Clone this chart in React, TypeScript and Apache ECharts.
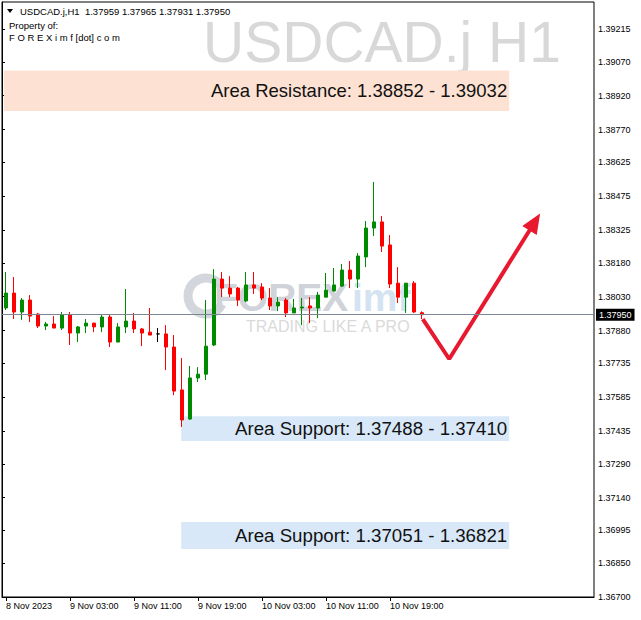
import React, { useEffect, useRef } from "react";
import * as echarts from "echarts";

// ---- data ----
const symbolTitle = "USDCAD.j H1";
const headerLine = "USDCAD.j,H1  1.37959 1.37965 1.37931 1.37950";
const ownerLines = ["Property of:", "F O R E X i m f [dot] c o m"];

const tickLabels = ["8 Nov 2023", "9 Nov 03:00", "9 Nov 11:00", "9 Nov 19:00", "10 Nov 03:00", "10 Nov 11:00", "10 Nov 19:00"];
const tickStep = 8;
const slotCount = 74; // hourly slots incl. chart shift

const priceTicks = [1.367, 1.3685, 1.36995, 1.3714, 1.3729, 1.37435, 1.37585, 1.37735, 1.3788, 1.3803, 1.3818, 1.38325, 1.38475, 1.38625, 1.3877, 1.3892, 1.3907, 1.39215];
const priceMin = 1.367;
const priceMax = 1.39335;
const lastPrice = 1.3795;

const opens = [1.37980,1.38046,1.37962,1.38015,1.37953,1.37900,1.37909,1.37891,1.37949,1.37869,
1.37900,1.37913,1.37896,1.37940,1.37829,1.37896,1.37922,1.37887,1.37873,1.37865,
1.37865,1.37807,1.37617,1.37488,1.37670,1.37687,1.37816,1.38108,1.38068,1.38068,
1.38011,1.38082,1.38073,1.38024,1.37989,1.38015,1.37958,1.37980,1.37989,1.37980,
1.38028,1.38055,1.38077,1.38148,1.38108,1.38206,1.38334,1.38361,1.38259,1.38090,
1.38028,1.38090,1.37959];
const closes = [1.38046,1.37962,1.38015,1.37944,1.37900,1.37909,1.37891,1.37949,1.37869,1.37896,
1.37913,1.37896,1.37940,1.37829,1.37896,1.37922,1.37887,1.37869,1.37860,1.37865,
1.37807,1.37612,1.37484,1.37670,1.37687,1.37811,1.38108,1.38068,1.38042,1.38015,
1.38082,1.38068,1.38024,1.37989,1.38006,1.37958,1.37980,1.37984,1.37980,1.38037,
1.38059,1.38082,1.38148,1.38108,1.38210,1.38334,1.38361,1.38254,1.38086,1.38028,
1.38090,1.37962,1.37950];
const lows = [1.37971,1.37931,1.37927,1.37918,1.37891,1.37882,1.37891,1.37882,1.37816,1.37829,
1.37869,1.37873,1.37873,1.37807,1.37829,1.37869,1.37869,1.37811,1.37860,1.37829,
1.37705,1.37594,1.37453,1.37484,1.37652,1.37661,1.37811,1.38028,1.38028,1.37989,
1.38006,1.38042,1.38015,1.37971,1.37966,1.37940,1.37958,1.37904,1.37913,1.37935,
1.38028,1.38055,1.38073,1.38068,1.38068,1.38161,1.38299,1.38228,1.38068,1.38002,
1.37958,1.37958,1.37931];
const highs = [1.38139,1.38117,1.38024,1.38037,1.37958,1.37918,1.37944,1.37962,1.37962,1.37900,
1.37931,1.37913,1.37953,1.37953,1.37913,1.38064,1.37958,1.37891,1.37980,1.37891,
1.37904,1.37860,1.37758,1.37723,1.37718,1.38015,1.38152,1.38139,1.38121,1.38073,
1.38139,1.38139,1.38090,1.38068,1.38028,1.38024,1.38020,1.38024,1.38028,1.38051,
1.38135,1.38157,1.38175,1.38188,1.38223,1.38365,1.38538,1.38387,1.38303,1.38161,
1.38090,1.38099,1.37965];

// zones: [slot start, slot end], [price low, price high]
const zoneLabels = ["Area Resistance: 1.38852 - 1.39032", "Area Support: 1.37488 - 1.37410", "Area Support: 1.37051 - 1.36821"];
const zoneX = [[0.25, 63.4], [22.4, 63.4], [22.4, 63.4]];
const zoneY = [[1.38852, 1.39032], [1.37391, 1.37501], [1.36913, 1.37032]];
const zoneColors = ["#fde2d3", "#d8e8f8", "#d8e8f8"];

// arrow path in [slot, price]
const arrowPath = [[52.6, 1.37931], [55.9, 1.37754], [66.6, 1.38361]];

const FONT = "Liberation Sans, Arial, sans-serif";

function buildCategories(): string[] {
  const out: string[] = [];
  for (let i = 0; i < slotCount; i++) {
    const h = 19 + i;
    const day = 8 + Math.floor(h / 24);
    const hh = h % 24;
    out.push(`${day} Nov ${hh < 10 ? "0" : ""}${hh}:00`);
  }
  return out;
}

export default function App() {
  const ref = useRef<HTMLDivElement>(null);
  useEffect(() => {
    if (!ref.current) return;
    const chart = echarts.init(ref.current, null, { renderer: "svg" });
    const categories = buildCategories();
    const candleData = opens.map((o, i) => [o, closes[i], lows[i], highs[i]]);
    const arrowData: any[] = arrowPath.map((p, i) =>
      i === arrowPath.length - 1
        ? { value: p, symbol: "triangle", symbolSize: [17, 20], symbolRotate: -32, itemStyle: { color: "#e8192f" } }
        : { value: p }
    );
    const zones = zoneLabels.map((name, i) => [
      {
        name,
        xAxis: zoneX[i][0],
        yAxis: zoneY[i][1],
        itemStyle: { color: zoneColors[i] },
        label: { show: true, position: "insideRight", distance: 2, fontSize: i === 0 ? 18.5 : 18.7, color: "#111", fontFamily: FONT },
      },
      { xAxis: zoneX[i][1], yAxis: zoneY[i][0] },
    ]);

    chart.setOption({
      animation: false,
      backgroundColor: "#ffffff",
      grid: { left: 2, right: 47, top: 2, bottom: 23, show: true, borderColor: "#000", borderWidth: 1, backgroundColor: "transparent" },
      xAxis: [
        {
          type: "category",
          data: categories,
          boundaryGap: true,
          axisLine: { show: true, lineStyle: { color: "#000", width: 1 } },
          axisTick: {
            show: true,
            alignWithLabel: true,
            length: 4,
            lineStyle: { color: "#000" },
            interval: (idx: number) => idx % tickStep === 0 && idx / tickStep < tickLabels.length,
          },
          axisLabel: {
            interval: (idx: number) => idx % tickStep === 0 && idx / tickStep < tickLabels.length,
            formatter: (_v: string, idx: number) => tickLabels[Math.round(idx / tickStep)] ?? "",
            align: "left",
            margin: 4,
            fontSize: 9,
            color: "#000",
            fontFamily: FONT,
          },
          splitLine: { show: false },
        },
        { type: "value", min: 0, max: slotCount, show: false },
      ],
      yAxis: {
        type: "value",
        position: "right",
        min: priceMin,
        max: priceMax,
        axisLine: { show: true, lineStyle: { color: "#000", width: 1 } },
        axisTick: { show: true, length: 3, customValues: priceTicks, lineStyle: { color: "#000" } },
        axisLabel: { customValues: priceTicks, formatter: (v: number) => v.toFixed(5), fontSize: 9, color: "#000", margin: 4, fontFamily: FONT },
        splitLine: { show: false },
      },
      graphic: [
        { type: "text", x: 561, y: 42, z: -1, style: { text: symbolTitle, fill: "#d8d8d8", font: `57px ${FONT}`, align: "right", verticalAlign: "middle" } },
        { type: "polygon", z: 5, shape: { points: [[7, 9], [13, 9], [10, 13]] }, style: { fill: "#000" } },
        { type: "text", x: 20, y: 11, z: 5, style: { text: headerLine, fill: "#000", font: `9.5px ${FONT}`, align: "left", verticalAlign: "middle" } },
        { type: "text", x: 9, y: 25, z: 5, style: { text: ownerLines[0], fill: "#000", font: `9.5px ${FONT}`, align: "left", verticalAlign: "middle" } },
        { type: "text", x: 9, y: 37, z: 5, style: { text: ownerLines[1], fill: "#000", font: `9.5px ${FONT}`, align: "left", verticalAlign: "middle" } },
        // watermark logo
        { type: "arc", z: -1, shape: { cx: 206, cy: 296, r: 18, startAngle: Math.PI * 0.15, endAngle: Math.PI * 1.85 }, style: { stroke: "#d3d6dc", lineWidth: 9, fill: null } },
        { type: "text", x: 214, y: 297, z: -1, style: { text: "FOREX", fill: "#d0d3d9", font: `bold 39px ${FONT}`, align: "left", verticalAlign: "middle" } },
        { type: "text", x: 352, y: 297, z: -1, style: { text: "imf", fill: "#d3e3f1", font: `bold 39px ${FONT}`, align: "left", verticalAlign: "middle" } },
        { type: "text", x: 246, y: 326, z: -1, style: { text: "TRADING LIKE A PRO", fill: "#dadada", font: `16px ${FONT}`, align: "left", verticalAlign: "middle" } },
      ],
      series: [
        {
          type: "line",
          xAxisIndex: 1,
          yAxisIndex: 0,
          z: 1,
          data: arrowData,
          symbol: "none",
          lineStyle: { color: "#e8192f", width: 4 },
          itemStyle: { color: "#e8192f" },
          silent: true,
          markArea: { silent: true, data: zones },
          markLine: {
            silent: true,
            precision: 5,
            symbol: ["none", "none"],
            lineStyle: { color: "#7d8793", width: 1, type: "solid" },
            label: { show: true, position: "end", distance: 2, formatter: (p: any) => Number(p.value).toFixed(5), backgroundColor: "#000", color: "#fff", fontSize: 9, padding: [2, 3, 1, 3], fontFamily: FONT },
            data: [{ yAxis: lastPrice }],
          },
        },
        {
          type: "candlestick",
          xAxisIndex: 0,
          yAxisIndex: 0,
          z: 3,
          data: candleData,
          barWidth: 4,
          itemStyle: {
            color: "#008a00",
            color0: "#ff0000",
            borderColor: "#008a00",
            borderColor0: "#ff0000",
            borderColorDoji: "#000",
            borderWidth: 1,
          },
          silent: true,
        },
      ],
    });
    return () => chart.dispose();
  }, []);
  return <div ref={ref} style={{ position: "fixed", left: 0, top: 0, width: 641, height: 620, background: "#fff" }} />;
}
